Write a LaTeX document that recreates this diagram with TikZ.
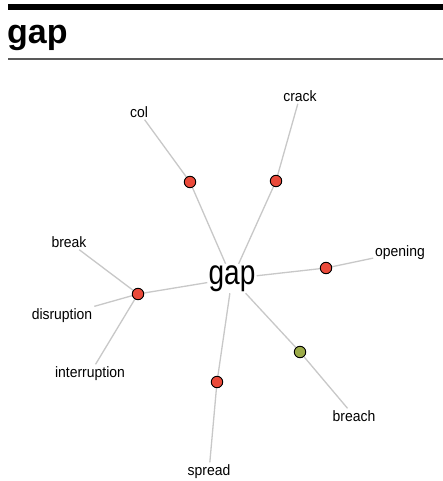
\documentclass[tikz,border=0pt]{standalone}
\usepackage{fontspec}
\setmainfont{Liberation Sans}
\usetikzlibrary{backgrounds}
\definecolor{dotred}{RGB}{234,74,58}
\definecolor{dotgreen}{RGB}{155,170,72}
\definecolor{edgegray}{RGB}{200,200,200}
\tikzset{
  dot/.style={circle,draw=black,line width=0.9pt,minimum size=11.5pt,inner sep=0pt},
  reddot/.style={dot,fill=dotred},
  greendot/.style={dot,fill=dotgreen},
  word/.style={font=\fontsize{15}{17}\selectfont,xscale=0.93,inner sep=2pt},
  link/.style={draw=edgegray,line width=1.3pt}
}
\begin{document}
\begin{tikzpicture}[x=1pt,y=-1pt]
\useasboundingbox (0,0) rectangle (443,481);
% header
\fill[black] (8,4) rectangle (443,10.5);
\node[anchor=base west,inner sep=0pt,font=\bfseries\fontsize{34}{36}\selectfont] (title) at (7,44) {gap};
\fill[black!65] (8,58.3) rectangle (443,60);
% central word
\node[font=\fontsize{35}{40}\selectfont,xscale=0.8,inner sep=1.5pt,anchor=base] (gap) at (232,284.3) {gap};
% intermediate dots
\node[reddot] (n1) at (190,182) {};
\node[reddot] (n2) at (276,181) {};
\node[reddot] (n3) at (326,268) {};
\node[greendot] (n4) at (300,352) {};
\node[reddot] (n5) at (217,382) {};
\node[reddot] (n6) at (138,294) {};
% leaf words
\node[word] (col) at (139,112) {col};
\node[word] (crack) at (300,96) {crack};
\node[word] (opening) at (400,252.5) {opening};
\node[word] (breach) at (354,416) {breach};
\node[word] (spread) at (209,471.5) {spread};
\node[word] (break) at (69,242) {break};
\node[word] (disruption) at (62,315.5) {disruption};
\node[word] (interruption) at (90,373.5) {interruption};
\begin{pgfonlayer}{background}
\fill[white] (0,0) rectangle (443,481);
\path[link] (gap) -- (n1) -- (col);
\path[link] (gap) -- (n2) -- (crack);
\path[link] (gap) -- (n3) -- (opening);
\path[link] (gap) -- (n4) -- (breach);
\path[link] (gap) -- (n5) -- (spread);
\path[link] (gap) -- (n6);
\path[link] (n6) -- (break);
\path[link] (n6) -- (disruption);
\path[link] (n6) -- (interruption);
\end{pgfonlayer}
\end{tikzpicture}
\end{document}
